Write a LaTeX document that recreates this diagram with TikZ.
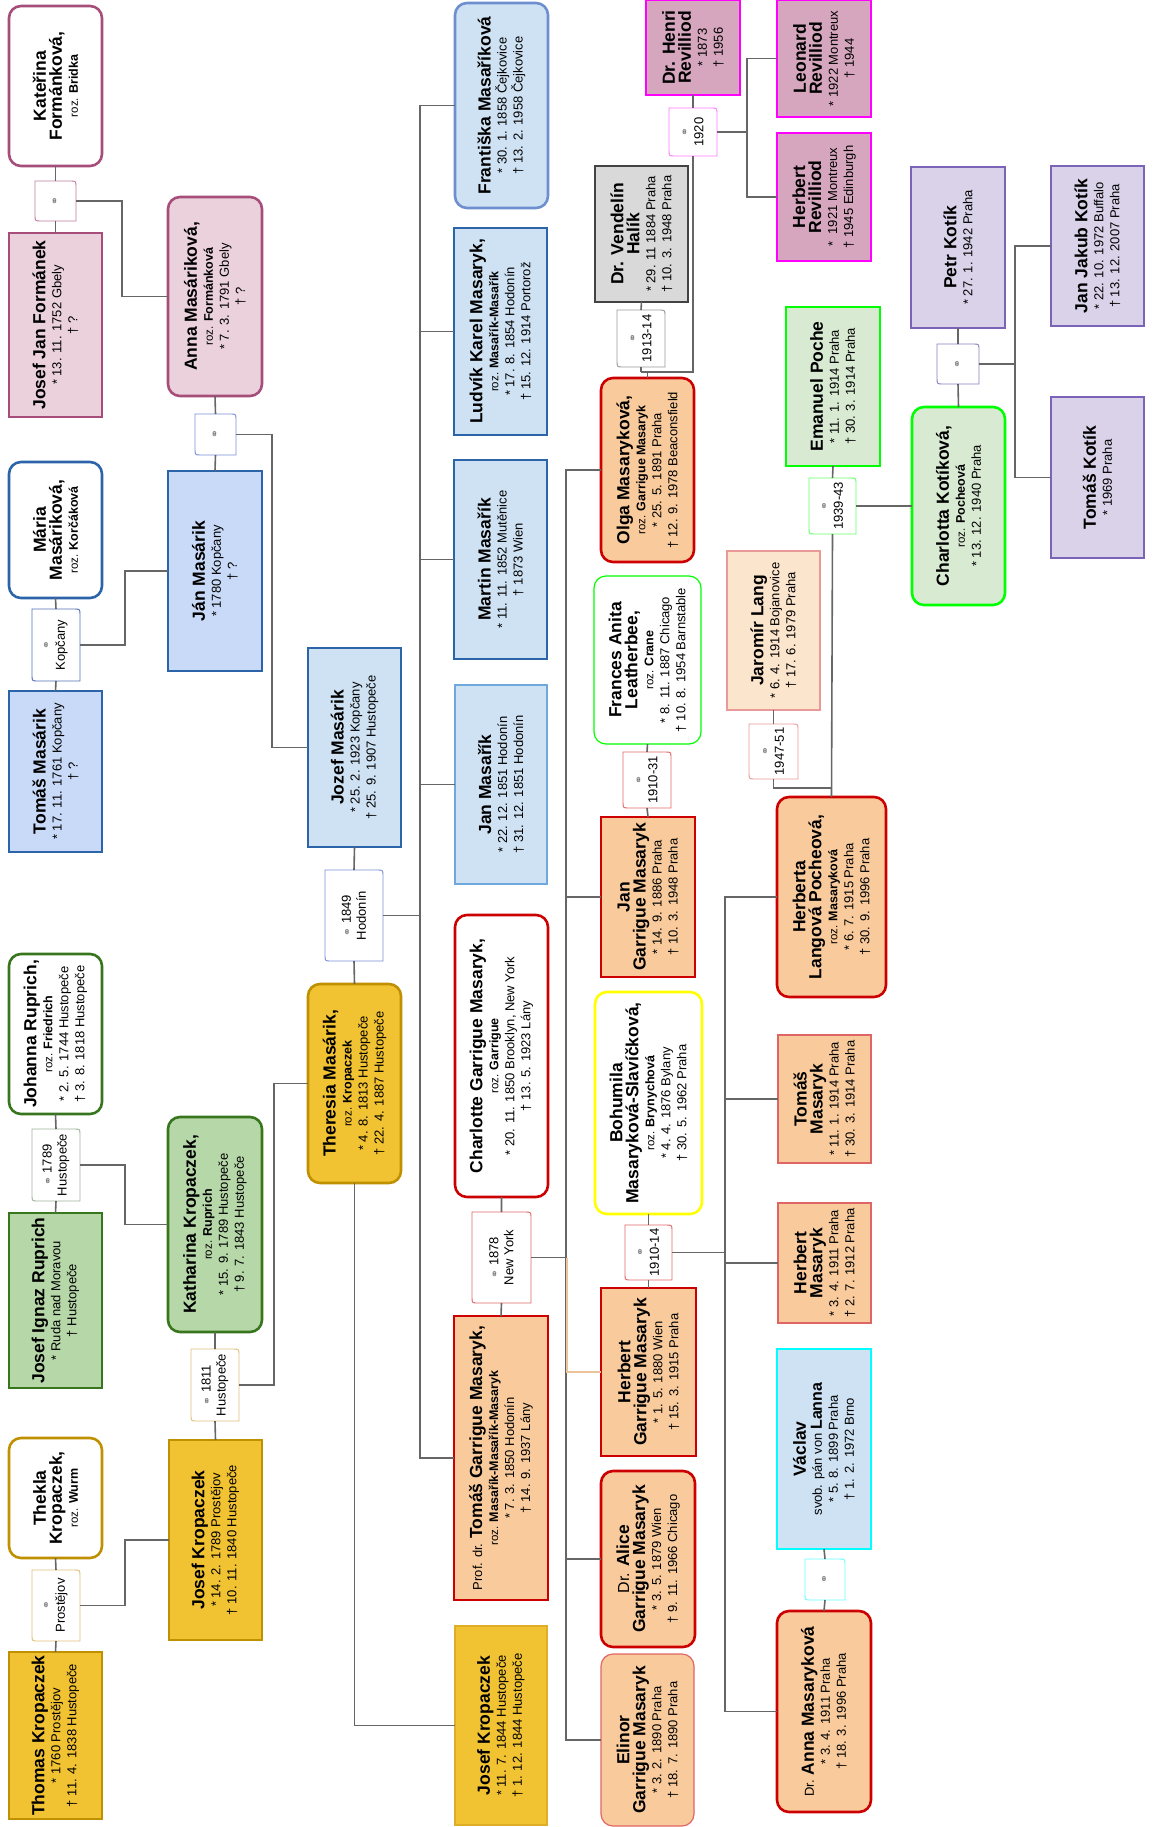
\documentclass[tikz,border=0pt]{standalone}
\usepackage{fontspec}
\setmainfont{Liberation Sans}
\newfontfamily\symf{DejaVu Sans}
\definecolor{plum}{HTML}{A64D79}
\definecolor{pinkf}{HTML}{EAD1DC}
\definecolor{bluedk}{HTML}{2C64AA}
\definecolor{bluef1}{HTML}{C9DAF8}
\definecolor{bluef2}{HTML}{CFE2F3}
\definecolor{bluemid}{HTML}{6D8FCF}
\definecolor{bluelt}{HTML}{6FA8DC}
\definecolor{greendk}{HTML}{38761D}
\definecolor{greenf}{HTML}{B6D7A8}
\definecolor{gold}{HTML}{BF9000}
\definecolor{yellowf}{HTML}{F1C232}
\definecolor{yellowb}{HTML}{DDAE28}
\definecolor{redb}{HTML}{CC0000}
\definecolor{redlt}{HTML}{E06666}
\definecolor{orangef}{HTML}{F9CB9C}
\definecolor{graydk}{HTML}{434343}
\definecolor{grayf}{HTML}{D9D9D9}
\definecolor{magb}{HTML}{FF00FF}
\definecolor{magf}{HTML}{D5A6BD}
\definecolor{limeb}{HTML}{00FF00}
\definecolor{limef}{HTML}{D9EAD3}
\definecolor{yelb}{HTML}{FFFF00}
\definecolor{purb}{HTML}{7B63B8}
\definecolor{purf}{HTML}{D9D2E9}
\definecolor{cyanb}{HTML}{00FFFF}
\definecolor{peachf}{HTML}{FCE5CD}
\definecolor{pinkb}{HTML}{EA9999}
\definecolor{conncol}{HTML}{666666}
\definecolor{tanc}{HTML}{EDC49A}
\definecolor{mplum}{HTML}{C27BA0}
\definecolor{mblue}{HTML}{7A90D6}
\definecolor{mblue2}{HTML}{5470B8}
\definecolor{mgreen}{HTML}{9FB59A}
\definecolor{mtan}{HTML}{E0BF7A}
\definecolor{mgray}{HTML}{999999}
\definecolor{mmag}{HTML}{FF77FF}
\definecolor{mlime}{HTML}{66FF66}
\definecolor{mcyan}{HTML}{66FFFF}
\definecolor{mpur}{HTML}{8E7CC3}
\definecolor{symc}{HTML}{777777}
\newcommand\Nm[1]{{\fontsize{17.5}{20}\selectfont\bfseries #1}}
\newcommand\Roz[1]{{{\fontsize{11.5}{14}\selectfont roz. }{\fontsize{12.5}{14}\selectfont\bfseries #1}}}
\newcommand\Mrg{{\symf\fontsize{10.5}{10}\selectfont\color{symc}⚭}}
\newcommand\Pers[7]{\node[person,#6,minimum width={(#5-#3)*1pt},minimum height={(#4-#2)*1pt}] (#1) at ({(#2+#4)/2},{(#3+#5)/2}) {#7};}
\newcommand\Marr[7]{%
  \draw[mline,draw=#6] (#2,#3) -- ({#4-6},#3) .. controls (#4,#3) .. (#4,{#3+6}) -- (#4,#5) -- ({#2+6},#5) .. controls (#2,#5) .. (#2,{#5-6}) -- cycle;
  \node[mtext,minimum width={(#5-#3)*1pt},minimum height={(#4-#2)*1pt}] (#1) at ({(#2+#4)/2},{(#3+#5)/2}) {#7};}
\begin{document}
\begin{tikzpicture}[x=1pt,y=-1pt,
  person/.style={rotate=90,align=center,inner sep=1pt,outer sep=0pt,line width=2.6pt,font=\fontsize{13}{16}\selectfont},
  rd/.style={rounded corners=12pt},
  thinb/.style={line width=1.2pt},
  mline/.style={line width=0.9pt,fill=white},
  mtext/.style={rotate=90,align=center,inner sep=0pt,outer sep=0pt,font=\fontsize{13}{15}\selectfont},
  conn/.style={draw=conncol,line width=1.6pt},
  tanline/.style={draw=tanc,line width=1.6pt}]
\useasboundingbox[fill=white] (0,0) rectangle (1152,1827);

% column 1
\Pers{kat}{9}{6}{102}{166}{rd,draw=plum,fill=white}{\Nm{Kateřina}\\\Nm{Formánková,}\\\Roz{Bridka}}
\Marr{mform}{35}{181}{76}{221}{mplum}{\Mrg}
\Pers{josefjan}{9}{233}{102}{417}{draw=plum,fill=pinkf}{\Nm{Josef Jan Formánek}\\{*} 13. 11. 1752 Gbely\\† ?}
\Pers{maria}{9}{462}{102}{598}{rd,draw=bluedk,fill=white}{\Nm{Mária}\\\Nm{Masáriková,}\\\Roz{Korčáková}}
\Marr{mkop}{32}{609}{80}{681}{mblue2}{\Mrg\\Kopčany}
\Pers{tomasm}{9}{691}{102}{852}{draw=bluedk,fill=bluef1}{\Nm{Tomáš Masárik}\\{*} 17. 11. 1761 Kopčany\\† ?}
\Pers{johanna}{9}{954}{102}{1114}{rd,draw=greendk,fill=white}{\Nm{Johanna Ruprich,}\\\Roz{Friedrich}\\{*} 2. 5. 1744 Hustopeče\\† 3. 8. 1818 Hustopeče}
\Marr{m1789}{32}{1129}{80}{1201}{mgreen}{\Mrg\ 1789\\Hustopeče}
\Pers{josefi}{9}{1213}{102}{1388}{draw=greendk,fill=greenf}{\Nm{Josef Ignaz Ruprich}\\{*} Ruda nad Moravou\\† Hustopeče}
\Pers{thekla}{9}{1438}{102}{1558}{rd,draw=gold,fill=white}{\Nm{Thekla}\\\Nm{Kropaczek,}\\\Roz{Wurm}}
\Marr{mpros}{32}{1570}{80}{1641}{mtan}{\Mrg\\Prostějov}
\Pers{thomas}{9}{1652}{102}{1819}{draw=gold,fill=yellowf}{\Nm{Thomas Kropaczek}\\{*} 1760 Prostějov\\† 11. 4. 1838 Hustopeče}

% column 2
\Pers{anna}{168}{197}{262}{396}{rd,draw=plum,fill=pinkf}{\Nm{Anna Masáriková,}\\\Roz{Formánková}\\{*} 7. 3. 1791 Gbely\\† ?}
\Marr{mmas}{195}{414}{236}{455}{mblue}{\Mrg}
\Pers{jan1}{168}{471}{262}{671}{draw=bluedk,fill=bluef1}{\Nm{Ján Masárik}\\{*} 1780 Kopčany\\† ?}
\Pers{kath}{168}{1117}{262}{1332}{rd,draw=greendk,fill=greenf}{\Nm{Katharina Kropaczek,}\\\Roz{Ruprich}\\{*} 15. 9. 1789 Hustopeče\\† 9. 7. 1843 Hustopeče}
\Marr{m1811}{191}{1349}{239}{1421}{mtan}{\Mrg\ 1811\\Hustopeče}
\Pers{josefk}{169}{1440}{262}{1640}{draw=gold,fill=yellowf}{\Nm{Josef Kropaczek}\\{*} 14. 2. 1789 Prostějov\\† 10. 11. 1840 Hustopeče}

% column 3
\Pers{jozef}{308}{648}{401}{847}{draw=bluedk,fill=bluef2}{\Nm{Jozef Masárik}\\{*} 25. 2. 1923 Kopčany\\† 25. 9. 1907 Hustopeče}
\Marr{m1849}{325}{870}{383}{961}{mblue}{\Mrg\ 1849\\Hodonín}
\Pers{theresia}{308}{984}{401}{1183}{rd,draw=gold,fill=yellowf}{\Nm{Theresia Masárik,}\\\Roz{Kropaczek}\\{*} 4. 8. 1813 Hustopeče\\† 22. 4. 1887 Hustopeče}

% column 4
\Pers{frant}{455}{3}{548}{208}{rd,draw=bluemid,fill=bluef2}{\Nm{Františka Masaříková}\\{*} 30. 1. 1858 Čejkovice\\† 13. 2. 1958 Čejkovice}
\Pers{ludvik}{454}{228}{547}{435}{draw=bluedk,fill=bluef2}{\Nm{Ludvík Karel Masaryk,}\\\Roz{Masařík-Masařík}\\{*} 17. 8. 1854 Hodonín\\† 15. 12. 1914 Portorož}
\Pers{martin}{454}{460}{547}{659}{draw=bluedk,fill=bluef2}{\Nm{Martin Masařík}\\{*} 11. 11. 1852 Mutěnice\\† 1873 Wien}
\Pers{janm}{455}{685}{547}{884}{thinb,draw=bluelt,fill=bluef2}{\Nm{Jan Masařík}\\{*} 22. 12. 1851 Hodonín\\† 31. 12. 1851 Hodonín}
\Pers{charlotte}{455}{915}{548}{1197}{rd,draw=redb,fill=white}{\Nm{Charlotte Garrigue Masaryk,}\\\Roz{Garrigue}\\{*} 20. 11. 1850 Brooklyn, New York\\† 13. 5. 1923 Lány}
\Marr{m1878}{472}{1212}{531}{1303}{redlt}{\Mrg\ 1878\\New York}
\Pers{tgm}{454}{1316}{548}{1600}{draw=redb,fill=orangef}{Prof. dr. \Nm{Tomáš Garrigue Masaryk,}\\\Roz{Masařík-Masařík-Masaryk}\\{*} 7. 3. 1850 Hodonín\\† 14. 9. 1937 Lány}
\Pers{josefk2}{455}{1626}{547}{1825}{thinb,draw=yellowb,fill=yellowf}{\Nm{Josef Kropaczek}\\{*} 11. 7. 1844 Hustopeče\\† 1. 12. 1844 Hustopeče}

% column 5
\Pers{henri}{646}{0}{740}{95}{draw=magb,fill=magf}{\Nm{Dr. Henri}\\\Nm{Revilliod}\\{*} 1873\\† 1956}
\Marr{m1920}{669}{108}{717}{156}{mmag}{\Mrg\\1920}
\Pers{halik}{595}{166}{688}{302}{draw=graydk,fill=grayf}{\Nm{Dr. Vendelín}\\\Nm{Halík}\\{*} 29. 11 1884 Praha\\† 10. 3. 1948 Praha}
\Marr{m1913}{617}{310}{665}{367}{mgray}{\Mrg\\1913-14}
\Pers{olga}{601}{378}{694}{562}{rd,draw=redb,fill=orangef}{\Nm{Olga Masaryková,}\\\Roz{Garrigue Masaryk}\\{*} 25. 5. 1891 Praha\\† 12. 9. 1978 Beaconsfield}
\Pers{frances}{594}{576}{701}{744}{rd,thinb,draw=limeb,fill=white}{\Nm{Frances Anita}\\\Nm{Leatherbee,}\\\Roz{Crane}\\{*} 8. 11. 1887 Chicago\\† 10. 8. 1954 Barnstable}
\Marr{m1910a}{623}{752}{671}{808}{redlt}{\Mrg\\1910-31}
\Pers{jangm}{601}{817}{695}{977}{draw=redb,fill=orangef}{\Nm{Jan}\\\Nm{Garrigue Masaryk}\\{*} 14. 9. 1886 Praha\\† 10. 3. 1948 Praha}
\Pers{bohumila}{595}{992}{702}{1214}{rd,draw=yelb,fill=white}{\Nm{Bohumila}\\\Nm{Masaryková-Slavíčková,}\\\Roz{Brynychová}\\{*} 4. 4. 1876 Bylany\\† 30. 5. 1962 Praha}
\Marr{m1910b}{625}{1225}{672}{1280}{redlt}{\Mrg\\1910-14}
\Pers{herbertgm}{601}{1288}{696}{1456}{draw=redb,fill=orangef}{\Nm{Herbert}\\\Nm{Garrigue Masaryk}\\{*} 1. 5. 1880 Wien\\† 15. 3. 1915 Praha}
\Pers{alice}{601}{1471}{695}{1647}{rd,draw=redb,fill=orangef}{{\fontsize{16}{18}\selectfont Dr. }\Nm{Alice}\\\Nm{Garrigue Masaryk}\\{*} 3. 5. 1879 Wien\\† 9. 11. 1966 Chicago}
\Pers{elinor}{601}{1654}{694}{1826}{rd,thinb,draw=redlt,fill=orangef}{\Nm{Elinor}\\\Nm{Garrigue Masaryk}\\{*} 3. 2. 1890 Praha\\† 18. 7. 1890 Praha}

% column 6
\Pers{leonard}{777}{0}{871}{117}{draw=magb,fill=magf}{\Nm{Leonard}\\\Nm{Revilliod}\\{*} 1922 Montreux\\† 1944}
\Pers{herbertr}{777}{133}{871}{261}{draw=magb,fill=magf}{\Nm{Herbert}\\\Nm{Revilliod}\\{*}~~1921 Montreux\\† 1945 Edinburgh}
\Pers{poche}{786}{307}{880}{466}{draw=limeb,fill=limef}{\Nm{Emanuel Poche}\\{*} 11. 1. 1914 Praha\\† 30. 3. 1914 Praha}
\Marr{m1939}{809}{478}{856}{534}{mlime}{\Mrg\\1939-43}
\Pers{lang}{727}{551}{820}{710}{thinb,draw=pinkb,fill=peachf}{\Nm{Jaromír Lang}\\{*} 6. 4. 1914 Bojanovice\\† 17. 6. 1979 Praha}
\Marr{m1947}{749}{724}{798}{779}{pinkb}{\Mrg\\1947-51}
\Pers{herberta}{777}{797}{886}{997}{rd,draw=redb,fill=orangef}{\Nm{Herberta}\\\Nm{Langová Pocheová,}\\\Roz{Masaryková}\\{*} 6. 7. 1915 Praha\\† 30. 9. 1996 Praha}
\Pers{tomas14}{778}{1035}{871}{1163}{thinb,draw=redlt,fill=orangef}{\Nm{Tomáš}\\\Nm{Masaryk}\\{*} 11. 1. 1914 Praha\\† 30. 3. 1914 Praha}
\Pers{herbert11}{778}{1203}{871}{1323}{thinb,draw=redlt,fill=orangef}{\Nm{Herbert}\\\Nm{Masaryk}\\{*} 3. 4. 1911 Praha\\† 2. 7. 1912 Praha}
\Pers{vaclav}{777}{1349}{871}{1549}{draw=cyanb,fill=bluef2}{\Nm{Václav}\\svob. pán von {\fontsize{16}{18}\selectfont\bfseries Lanna}\\{*} 5. 8. 1899 Praha\\† 1. 2. 1972 Brno}
\Marr{mvac}{805}{1559}{845}{1600}{mcyan}{\Mrg}
\Pers{annam}{777}{1611}{871}{1812}{rd,draw=redb,fill=orangef}{Dr. \Nm{Anna Masaryková}\\{*} 3. 4. 1911 Praha\\† 18. 3. 1996 Praha}

% column 7
\Pers{petr}{911}{167}{1005}{328}{draw=purb,fill=purf}{\Nm{Petr Kotík}\\{*} 27. 1. 1942 Praha}
\Marr{mkot}{937}{344}{979}{384}{mpur}{\Mrg}
\Pers{charlotta}{912}{407}{1005}{605}{rd,draw=limeb,fill=limef}{\Nm{Charlotta Kotíková,}\\\Roz{Pocheová}\\{*} 13. 12. 1940 Praha}
\Pers{jjk}{1051}{166}{1144}{326}{draw=purb,fill=purf}{\Nm{Jan Jakub Kotík}\\{*} 22. 10. 1972 Buffalo\\† 13. 12. 2007 Praha}
\Pers{tomask}{1051}{397}{1144}{558}{draw=purb,fill=purf}{\Nm{Tomáš Kotík}\\{*} 1969 Praha}

% connectors
\draw[conn] (kat.west) -- (mform.east) (mform.west) -- (josefjan.east);
\draw[conn] (mform.south) -- ++(46,0) |- (anna.north);
\draw[conn] (anna.west) -- (mmas.east) (mmas.west) -- (jan1.east);
\draw[conn] (maria.west) -- (mkop.east) (mkop.west) -- (tomasm.east);
\draw[conn] (mkop.south) -- ++(45,0) |- (jan1.north);
\draw[conn] (mmas.south) -- ++(36,0) |- (jozef.north);
\draw[conn] (jozef.west) -- (m1849.east) (m1849.west) -- (theresia.east);
\draw[conn] (johanna.west) -- (m1789.east) (m1789.west) -- (josefi.east);
\draw[conn] (m1789.south) -- ++(45,0) |- (kath.north);
\draw[conn] (kath.west) -- (m1811.east) (m1811.west) -- (josefk.east);
\draw[conn] (m1811.south) -- ++(35,0) |- (theresia.north);
\draw[conn] (thekla.west) -- (mpros.east) (mpros.west) -- (thomas.east);
\draw[conn] (mpros.south) -- ++(45,0) |- (josefk.north);
\draw[conn] (theresia.west) |- (josefk2.north);
\draw[conn] (m1849.south) -- ++(37,0) coordinate (t1);
\foreach \c in {frant,ludvik,martin,janm,tgm} \draw[conn] (t1) |- (\c.north);
\draw[conn] (charlotte.west) -- (m1878.east) (m1878.west) -- (tgm.east);
\draw[conn] (m1878.south) -- ++(35,0) coordinate (t2);
\foreach \c in {olga,jangm,alice,elinor} \draw[conn] (t2) |- (\c.north);
\draw[tanline] (t2) ++(1,0) |- (herbertgm.north);
\draw[conn] (halik.west) -- (m1913.east);
\draw[conn] (m1913.west) -- ++(0,5) coordinate (oj);
\draw[conn] (oj) -| (m1920.west);
\draw[conn] (henri.west) -- (m1920.east);
\draw[conn] (olga.east) |- (oj);
\draw[conn] (m1920.south) -- ++(30,0) coordinate (t3);
\foreach \c in {leonard,herbertr} \draw[conn] (t3) |- (\c.north);
\draw[conn] (frances.west) -- (m1910a.east) (m1910a.west) -- (jangm.east);
\draw[conn] (bohumila.west) -- (m1910b.east) (m1910b.west) -- (herbertgm.east);
\draw[conn] (m1910b.south) -- ++(53,0) coordinate (t4);
\foreach \c in {herberta,tomas14,herbert11,annam} \draw[conn] (t4) |- (\c.north);
\draw[conn] (poche.west) -- (m1939.east) (m1939.west) -- (herberta.east);
\draw[conn] (m1939.south) -- (charlotta.north);
\path (herberta.east) ++(0,-9) coordinate (hj);
\draw[conn] (lang.west) -- (m1947.east);
\draw[conn] (m1947.west) |- (hj);
\draw[conn] (vaclav.west) -- (mvac.east) (mvac.west) -- (annam.east);
\draw[conn] (petr.west) -- (mkot.east) (mkot.west) -- (charlotta.east);
\draw[conn] (mkot.south) -- ++(36,0) coordinate (t5);
\foreach \c in {jjk,tomask} \draw[conn] (t5) |- (\c.north);
\end{tikzpicture}
\end{document}
